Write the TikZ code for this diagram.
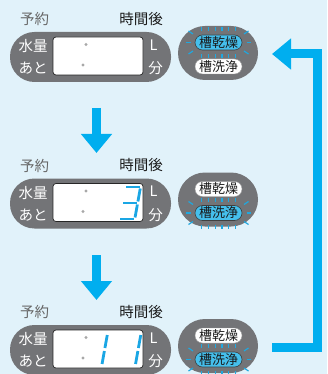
\documentclass[tikz,border=0pt]{standalone}
\usepackage{fontspec}
\newfontfamily\jp{Noto Sans CJK JP}
\usetikzlibrary{arrows.meta}
\definecolor{bg}{HTML}{E1F2FA}
\definecolor{pillgray}{HTML}{737477}
\definecolor{arrowblue}{HTML}{00AEEF}
\definecolor{litblue}{HTML}{45BFEC}
\definecolor{raycol}{HTML}{1FA8E0}
\definecolor{segblue}{HTML}{1AA6E4}
\definecolor{dotgray}{HTML}{A8A8A8}
\definecolor{lblgray}{HTML}{666666}
\tikzset{
  toplbl/.style={font=\jp\fontsize{14.5}{15}\selectfont, inner sep=0pt},
  wlbl/.style={font=\jp\fontsize{14.5}{15}\selectfont, inner sep=0pt, text=white},
  lcdbox/.style={fill=white, draw=black!85, line width=0.7pt, rounded corners=3pt,
    minimum width=90pt, minimum height=38pt, inner sep=0pt},
  btnbase/.style={font=\jp\fontsize{13}{13}\selectfont, inner sep=0pt,
    minimum width=47pt, minimum height=15pt, rounded corners=7.5pt, text=black!90},
  btnlit/.style={btnbase, fill=litblue, draw=black!75, line width=0.6pt},
  btnoff/.style={btnbase, fill=white, draw=black!40, line width=0.4pt},
  ray/.style={draw=raycol, line width=1.2pt},
  seg/.style={draw=segblue, line width=2.8pt},
  bigarrow/.style={draw=arrowblue, line width=9pt, miter limit=10,
    -{Triangle[width=30pt,length=19pt]}},
}
\newcommand\lcdpanel[2]{%
 \begin{scope}[shift={(0,#1)}]
  \node[toplbl, text=lblgray] (yoyaku#2) at (34.5,19) {予約};
  \node[toplbl, text=black!90] (jikan#2) at (141,19) {時間後};
  \fill[pillgray, rounded corners=24.5pt] (10,32) rectangle (171,82);
  \node[lcdbox] (lcd#2) at (98,56) {};
  \fill[dotgray] (86,44.5) circle (1.6);
  \fill[dotgray] (83,65) circle (1.6);
  \node[wlbl] (suiryo#2) at (33,46.5) {水量};
  \node[wlbl] (ato#2) at (33,68.5) {あと};
  \node[wlbl] (liter#2) at (153.5,45) {L};
  \node[wlbl] (fun#2) at (155.5,68.5) {分};
  \fill[pillgray, rounded corners=27pt] (178,26) rectangle (258,80);
 \end{scope}}
\newcommand\litrays[2]{%
  \foreach \dx in {-17,-10.2,-3.4,3.4,10.2,17}{
    \draw[ray] (#1+\dx,#2-15.5) -- (#1+\dx,#2-11.5);
    \draw[ray] (#1+\dx,#2+11.5) -- (#1+\dx,#2+15.5);}
  \draw[ray] (#1-25.5,#2-8.5) -- (#1-30,#2-11.5);
  \draw[ray] (#1-28,#2) -- (#1-32.5,#2);
  \draw[ray] (#1-25.5,#2+8.5) -- (#1-30,#2+11.5);
  \draw[ray] (#1+25.5,#2-8.5) -- (#1+30,#2-11.5);
  \draw[ray] (#1+28,#2) -- (#1+32.5,#2);
  \draw[ray] (#1+25.5,#2+8.5) -- (#1+30,#2+11.5);}
\begin{document}
\begin{tikzpicture}[x=1pt,y=-1pt]
\fill[bg] (0,0) rectangle (327,374);
\useasboundingbox (0,0) rectangle (327,374);

% panel 1
\lcdpanel{0}{a}
\litrays{218.5}{42.5}
\node[btnlit] (kansoa) at (218.5,42.5) {槽乾燥};
\node[btnoff] (senjoa) at (218.5,66.5) {槽洗浄};

% panel 2
\lcdpanel{146.5}{b}
\litrays{218.5}{213}
\node[btnoff] (kansob) at (218.5,189) {槽乾燥};
\node[btnlit] (senjob) at (218.5,213) {槽洗浄};
\begin{scope}[shift={(117.5,220.5)}, xslant=0.18]
  \draw[seg] (2.5,-33.5) -- (16,-33.5);
  \draw[seg] (17,-32) -- (17,-19);
  \draw[seg] (17,-16) -- (17,-3);
  \draw[seg] (2.5,-1.5) -- (16,-1.5);
  \draw[seg] (2.5,-17.5) -- (16,-17.5);
\end{scope}

% panel 3
\lcdpanel{293}{c}
\litrays{218.5}{359.5}
\node[btnoff] (kansoc) at (218.5,335.5) {槽乾燥};
\node[btnlit] (senjoc) at (218.5,359.5) {槽洗浄};
\begin{scope}[shift={(84.5,367)}, xslant=0.18]
  \draw[seg] (17,-32) -- (17,-19);
  \draw[seg] (17,-16) -- (17,-3);
\end{scope}
\begin{scope}[shift={(118,367)}, xslant=0.18]
  \draw[seg] (17,-32) -- (17,-19);
  \draw[seg] (17,-16) -- (17,-3);
\end{scope}

% down arrows
\coordinate (d1s) at (96.5,108);
\coordinate (d1e) at (96.5,153);
\coordinate (d2s) at (96.5,255);
\coordinate (d2e) at (96.5,300);
\draw[bigarrow] (d1s) -- (d1e);
\draw[bigarrow] (d2s) -- (d2e);

% return arrow
\coordinate (r1) at (272,347.5);
\coordinate (r2) at (317.5,347.5);
\coordinate (r3) at (317.5,54);
\coordinate (r4) at (272,54);
\draw[bigarrow] (r1) -- (r2) -- (r3) -- (r4);
\end{tikzpicture}
\end{document}
